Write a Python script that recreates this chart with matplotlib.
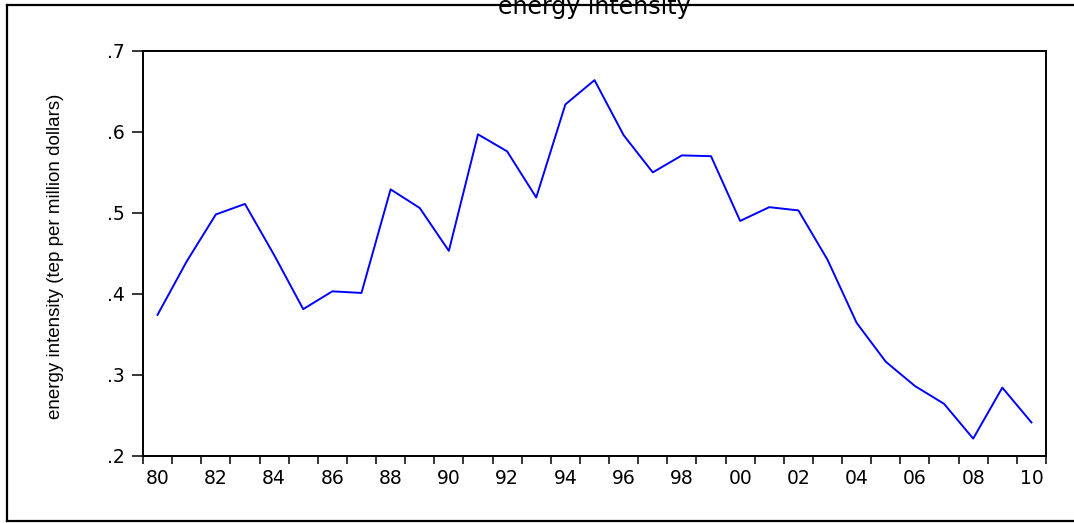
import matplotlib
matplotlib.use("Agg")
import matplotlib.pyplot as plt
from matplotlib.lines import Line2D
import numpy as np

years = list(range(1980, 2011))
energy_intensity = [0.374, 0.440, 0.498, 0.511, 0.448, 0.381, 0.403, 0.401,
                    0.529, 0.506, 0.453, 0.597, 0.576, 0.519, 0.634, 0.664,
                    0.596, 0.550, 0.571, 0.570, 0.490, 0.507, 0.503, 0.442,
                    0.364, 0.316, 0.286, 0.264, 0.221, 0.284, 0.241]
label_years = list(range(1980, 2011, 2))
ytick_vals = [0.2, 0.3, 0.4, 0.5, 0.6, 0.7]
ytick_labels = [".2", ".3", ".4", ".5", ".6", ".7"]
title = "energy intensity"
ylabel = "energy intensity (tep per million dollars)"

W, H = 1074, 523
fig = plt.figure(figsize=(W / 100, H / 100), dpi=100)
fig.patch.set_facecolor("white")

left, right, top, bottom = 143, 1046, 51, 455.6
ax = fig.add_axes([left / W, 1 - bottom / H, (right - left) / W, (bottom - top) / H])

ax.plot(years, energy_intensity, color="#0000FF", linewidth=1.4)

ax.set_xlim(years[0] - 0.5, years[-1] + 0.5)
ax.set_ylim(0.2, 0.7)

# x ticks: labels at even years, tick marks at slot boundaries
ax.set_xticks(label_years)
ax.set_xticklabels([f"{y % 100:02d}" for y in label_years])
ax.set_xticks(np.arange(years[0] - 0.5, years[-1] + 1.0, 1.0), minor=True)
ax.tick_params(axis="x", which="major", length=0, pad=10, labelsize=13.5)
ax.tick_params(axis="x", which="minor", length=5.5, width=1.1, direction="out")

ax.set_yticks(ytick_vals)
ax.set_yticklabels(ytick_labels)
ax.tick_params(axis="y", which="major", length=8, width=1.1, direction="out",
               pad=5, labelsize=13.5)

for lab in ax.get_xticklabels() + ax.get_yticklabels():
    lab.set_family("DejaVu Sans")

for sp in ax.spines.values():
    sp.set_linewidth(1.4)
    sp.set_color("black")

# y-axis label
fig.text(56 / W, 1 - 256 / H, ylabel, rotation=90, ha="center", va="center",
         fontsize=13.5, family="Liberation Sans")

# outer frame
lw = 1.6
fig.add_artist(Line2D([7 / W, 7 / W], [1 - 5 / H, 1 - 521 / H], color="black",
                      linewidth=lw, transform=fig.transFigure))
fig.add_artist(Line2D([7 / W, 1.0], [1 - 5 / H, 1 - 5 / H], color="black",
                      linewidth=lw, transform=fig.transFigure))
fig.add_artist(Line2D([7 / W, 1.0], [1 - 521 / H, 1 - 521 / H], color="black",
                      linewidth=lw, transform=fig.transFigure))

# title (partially cut off at top, as in the reference)
fig.text(594 / W, 1 - 14 / H, title, ha="center", va="baseline",
         fontsize=17, family="DejaVu Sans", zorder=5)

fig.savefig("out.png", dpi=100, facecolor="white")
